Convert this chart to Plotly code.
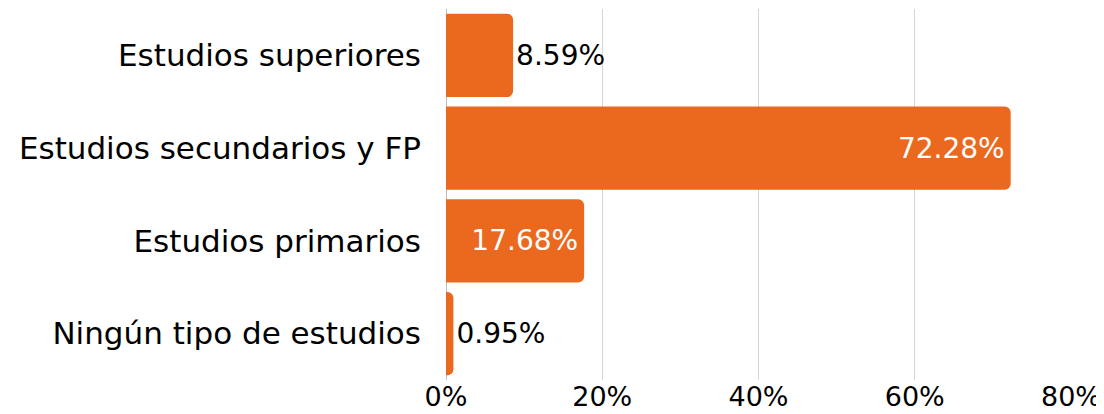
import plotly.graph_objects as go

categories = ["Ningún tipo de estudios", "Estudios primarios", "Estudios secundarios y FP", "Estudios superiores"]
values = [0.95, 17.68, 72.28, 8.59]
labels = ["0.95%", "17.68%", "72.28%", "8.59%"]
positions = ["outside", "inside", "inside", "outside"]
x_ticks = [0, 20, 40, 60, 80]
x_tick_labels = ["0%", "20%", "40%", "60%", "80%"]

FONT = "DejaVu Sans"
ORANGE = "#EB691F"

fig = go.Figure(go.Bar(
    y=categories,
    x=values,
    orientation="h",
    text=labels,
    textposition=positions,
    insidetextanchor="end",
    insidetextfont=dict(color="white", size=28, family=FONT),
    outsidetextfont=dict(color="black", size=28, family=FONT),
    marker=dict(color=ORANGE, cornerradius=6, line=dict(width=0)),
    cliponaxis=False,
    hoverinfo="skip",
))

# page body has an 8px margin, so the figure is sized to the visible area
fig.update_layout(
    width=1096,
    height=406,
    margin=dict(l=438, r=33, t=1, b=34, autoexpand=False),
    paper_bgcolor="white",
    plot_bgcolor="white",
    bargap=0.1,
    showlegend=False,
    font=dict(family=FONT, size=28, color="black"),
)
fig.update_xaxes(
    range=[0, 80],
    tickvals=x_ticks,
    ticktext=x_tick_labels,
    showgrid=True,
    gridcolor="#d6d6d6",
    gridwidth=1,
    zeroline=True,
    zerolinecolor="#bdbdbd",
    zerolinewidth=1,
    showline=False,
    ticks="",
    automargin=False,
    ticklabelstandoff=-2,
    tickfont=dict(size=27, family=FONT, color="black"),
    fixedrange=True,
)
fig.update_yaxes(
    showgrid=False,
    showline=False,
    ticks="",
    automargin=False,
    ticklabelstandoff=24,
    tickfont=dict(size=31, family=FONT, color="black"),
    fixedrange=True,
)

fig.write_html("out.html")
